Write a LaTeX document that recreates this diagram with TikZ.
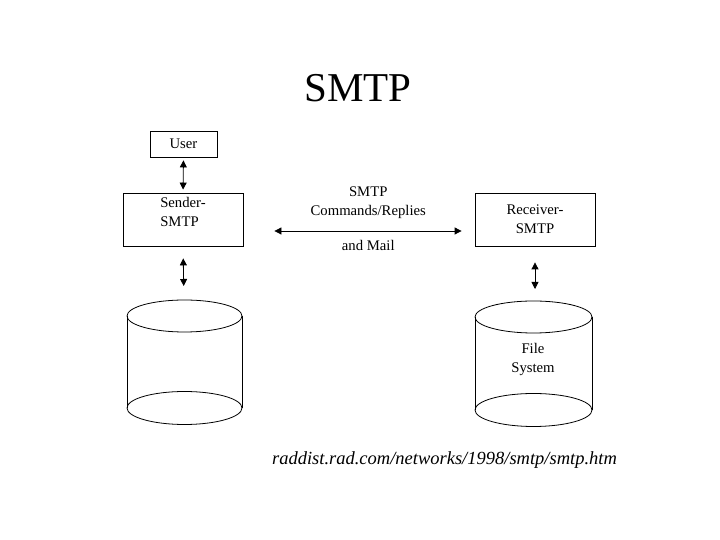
\documentclass[tikz,border=0pt]{standalone}
\usepackage{fontspec}
\setmainfont{Liberation Serif}
\usetikzlibrary{arrows.meta}
\begin{document}
\begin{tikzpicture}[
    x=1pt, y=1pt,
    box/.style={draw, line width=0.8pt, inner sep=2pt, font=\fontsize{14.7}{19}\selectfont},
    txt/.style={font=\fontsize{14.7}{19}\selectfont, inner sep=0pt},
    link/.style={{Triangle[length=7pt,width=7pt]}-{Triangle[length=7pt,width=7pt]}, line width=0.8pt},
    disk/.style={line width=0.8pt},
]
\useasboundingbox (0,0) rectangle (720,540);
% Title
\node[font=\fontsize{41}{48}\selectfont, inner sep=0pt] (title) at (358,452) {SMTP};
% Boxes
\node[box, minimum width=67, minimum height=26] (user) at (183.5,396) {User};
\node[box, minimum width=120, minimum height=53, align=left, text depth=16pt] (sender) at (183,320.5) {Sender-\\SMTP};
\node[box, minimum width=120, minimum height=53, align=center] (receiver) at (535,320.5) {Receiver-\\SMTP};
% Disks
\foreach \cx/\rx/\ty/\by/\nm in {184.5/57.5/224/132/ldisk, 533.5/58.5/223/130/rdisk} {
    \draw[disk] (\cx,\ty) ellipse [x radius=\rx, y radius=16];
    \draw[disk] (\cx,\by) ellipse [x radius=\rx, y radius=16.5];
    \draw[disk] (\cx-\rx,\ty) -- (\cx-\rx,\by);
    \draw[disk] (\cx+\rx,\ty) -- (\cx+\rx,\by);
}
\coordinate (ldisk) at (184,240);
\coordinate (rdisk) at (535,239);
\node[txt, align=center] (fs) at (533,181) {File\\System};
% Connections
\draw[link, shorten <=3pt, shorten >=3pt] (user.south) -- (sender.north);
\draw[link, shorten <=12pt, shorten >=14pt] (sender.south) -- (ldisk);
\draw[link, shorten <=16pt, shorten >=12pt] (receiver.south) -- (rdisk);
\draw[link, shorten <=31pt, shorten >=13pt] ([yshift=-11.5pt]sender.east) --
    node[txt, pos=0.54, above=12pt, align=center] (cmd) {SMTP\\Commands/Replies}
    node[txt, pos=0.54, below=9pt] (mail) {and Mail}
    ([yshift=-11.5pt]receiver.west);
% Source
\node[font=\fontsize{18.5}{22}\selectfont\itshape, inner sep=0pt] (src) at (444.5,80) {raddist.rad.com/networks/1998/smtp/smtp.htm};
\end{tikzpicture}
\end{document}
